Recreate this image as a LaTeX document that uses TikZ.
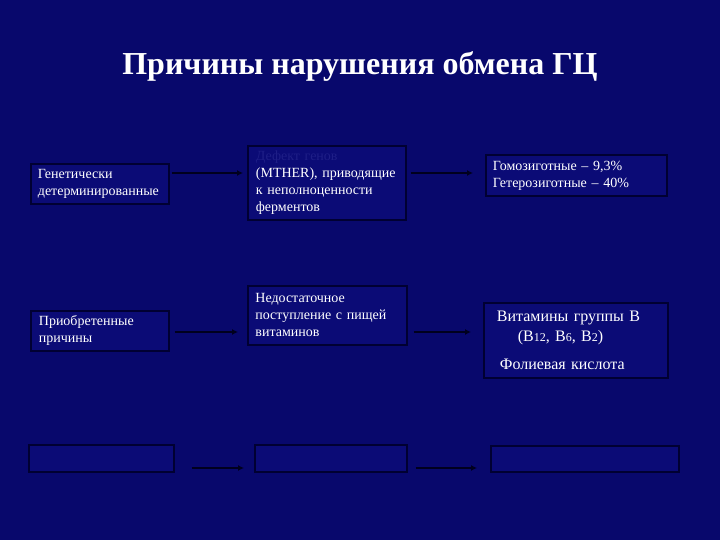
\documentclass[tikz,border=0pt]{standalone}
\usepackage{fontspec}
\setmainfont{Liberation Serif}
\usetikzlibrary{arrows.meta}
\definecolor{bg}{RGB}{8,8,108}
\definecolor{boxfill}{RGB}{11,11,118}
\definecolor{edge}{RGB}{0,0,50}
\definecolor{arrowc}{RGB}{0,0,30}
\definecolor{dim}{RGB}{30,30,135}
\begin{document}
\begin{tikzpicture}[x=1pt,y=-1pt,
  box/.style={draw=edge, line width=1.8pt, fill=boxfill, anchor=north west,
    inner ysep=0pt, text=white, align=left,
    font=\fontsize{14}{17}\selectfont},
  arr/.style={draw=arrowc, line width=1.3pt, -{Latex[length=6pt,width=6pt]}}]
\fill[bg] (0,0) rectangle (720,540);
\useasboundingbox (0,0) rectangle (720,540);
% title
\node[text=white, font=\bfseries\fontsize{32}{36}\selectfont] (title) at (360,67) {Причины нарушения обмена ГЦ};
% row 1
\node[box, inner xsep=7pt, text width=124pt, minimum width=138pt, minimum height=40pt] (b1) at (30,163)
  {Генетически\\детерминированные};
\node[box, inner xsep=8pt, text width=142pt, minimum width=158pt, minimum height=74pt] (b2) at (247,145)
  {\textcolor{dim}{Дефект генов}\\(MTHER), приводящие\\к неполноценности\\ферментов};
\node[box, inner xsep=7pt, text width=167pt, minimum width=181pt, minimum height=41pt] (b3) at (485,154)
  {Гомозиготные – 9,3\%\\Гетерозиготные – 40\%};
% row 2
\node[box, inner xsep=8pt, text width=122pt, minimum width=138pt, minimum height=40pt] (b4) at (30,310)
  {Приобретенные\\причины};
\node[box, inner xsep=7pt, text width=144pt, minimum width=159pt, minimum height=59pt] (b5) at (247,285)
  {Недостаточное\\поступление с пищей\\витаминов};
\node[box, inner xsep=13pt, text width=158pt, minimum width=184pt, minimum height=75pt,
  font=\fontsize{16}{20}\selectfont] (b6) at (483,302)
  {Витамины группы В\\\hspace*{21pt}(В{\fontsize{12}{12}\selectfont 12}, В{\fontsize{12}{12}\selectfont 6}, В{\fontsize{12}{12}\selectfont 2})\\[8pt]\hspace*{3pt}Фолиевая кислота};
% row 3
\node[box, minimum width=145pt, minimum height=27pt] (b7) at (28,444) {};
\node[box, minimum width=152pt, minimum height=27pt] (b8) at (254,444) {};
\node[box, minimum width=188pt, minimum height=26pt] (b9) at (490,445) {};
% arrow levels
\coordinate (r1) at (0,173);
\coordinate (r2) at (0,332);
\coordinate (r3) at (0,468);
\draw[arr, shorten <=2pt, shorten >=4pt] (b1.east |- r1) -- (b2.west |- r1);
\draw[arr, shorten <=4pt, shorten >=12pt] (b2.east |- r1) -- (b3.west |- r1);
\draw[arr, shorten <=5pt, shorten >=9pt] (b4.east |- r2) -- (b5.west |- r2);
\draw[arr, shorten <=6pt, shorten >=12pt] (b5.east |- r2) -- (b6.west |- r2);
\draw[arr, shorten <=17pt, shorten >=10pt] (b7.east |- r3) -- (b8.west |- r3);
\draw[arr, shorten <=8pt, shorten >=13pt] (b8.east |- r3) -- (b9.west |- r3);
\end{tikzpicture}
\end{document}
